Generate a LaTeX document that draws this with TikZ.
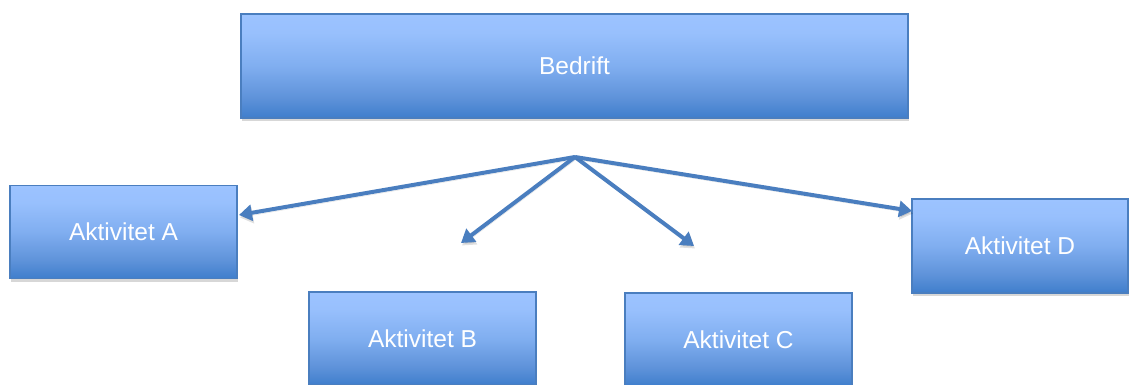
\documentclass[tikz,border=0pt]{standalone}
\usepackage{fontspec}
\setmainfont{Liberation Sans}
\usetikzlibrary{shadows,arrows.meta}
\definecolor{boxtop}{HTML}{9CC3FF}
\definecolor{boxtopb}{HTML}{98C0FD}
\definecolor{boxmid}{HTML}{80AEF0}
\definecolor{boxlow}{HTML}{5F93DA}
\definecolor{boxbot}{HTML}{3F7ECC}
\definecolor{boxedge}{HTML}{4A7EBF}
\definecolor{arrowcol}{HTML}{4A7EBF}
\pgfdeclareverticalshading{boxshade}{100bp}{color(0bp)=(boxbot); color(25bp)=(boxbot); color(35bp)=(boxlow); color(50bp)=(boxmid); color(66bp)=(boxtopb); color(75bp)=(boxtop); color(100bp)=(boxtop)}
\begin{document}
\begin{tikzpicture}[x=1pt,y=-1pt,
  box/.style={draw=boxedge, line width=1.2pt, shading=boxshade, text=white,
    font=\fontsize{24.5}{29}\selectfont, inner sep=0pt,
    drop shadow={shadow xshift=1pt, shadow yshift=-3pt, opacity=0.22, fill=black!70}},
  conn/.style={draw=arrowcol, line width=4pt, -{Triangle[length=13pt,width=16pt]},
    preaction={draw=black, opacity=0.12, transform canvas={xshift=1pt, yshift=-2.5pt}}}]
\clip (0,0) rectangle (1131,385);
\fill[white] (0,0) rectangle (1131,385);
\node[box, minimum width=667pt, minimum height=104pt] (bed) at (574.5,66) {Bedrift};
\node[box, minimum width=227pt, minimum height=93pt] (A) at (123.5,232) {Aktivitet A};
\node[box, minimum width=227pt, minimum height=93pt] (B) at (422.5,338.5) {Aktivitet B};
\node[box, minimum width=227pt, minimum height=93pt] (C) at (738.5,339.5) {Aktivitet C};
\node[box, minimum width=216pt, minimum height=94pt] (D) at (1020,246) {Aktivitet D};
\coordinate (hub) at (575,157);
\coordinate (endA) at (239,215);
\coordinate (endB) at (461,243);
\coordinate (endC) at (694,246);
\coordinate (endD) at (912,211);
\draw[conn] (hub) -- (endA);
\draw[conn] (hub) -- (endB);
\draw[conn] (hub) -- (endC);
\draw[conn] (hub) -- (endD);
\end{tikzpicture}
\end{document}
